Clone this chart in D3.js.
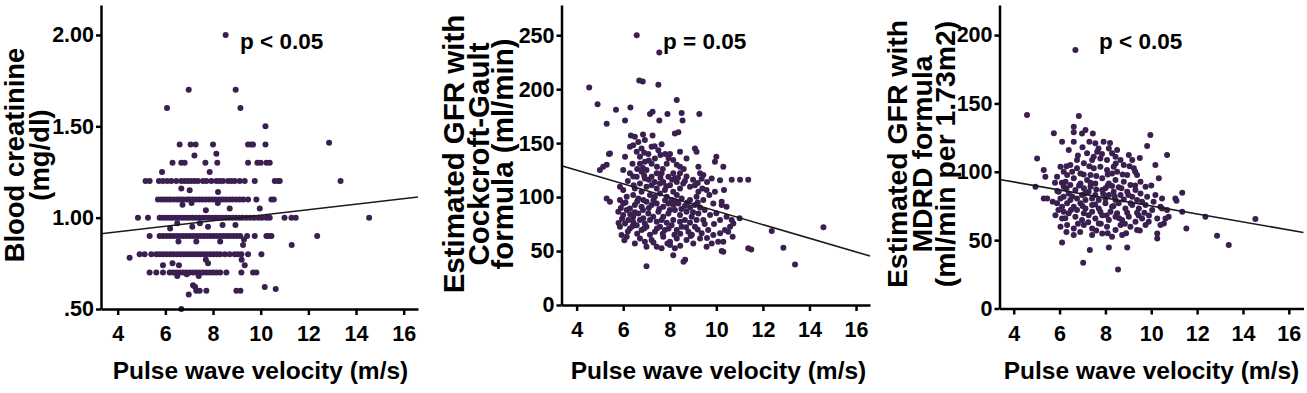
<!DOCTYPE html>
<html>
<head>
<meta charset="utf-8">
<script src="https://cdn.jsdelivr.net/npm/d3@7"></script>
<style>
  body { margin: 0; background: #fff; }
  svg { display: block; font-family: "Liberation Sans", Arial, sans-serif; font-weight: bold; }
  .axis path, .axis line { stroke: #000; stroke-width: 2.5; }
  .axis text { font-size: 21.5px; font-weight: bold; fill: #000; font-family: "Liberation Sans", Arial, sans-serif; }
</style>
</head>
<body>
<script>
// x: pulse wave velocity (m/s), y: blood creatinine (mg/dl)
const creatinine = [
  [8.53, 2.0], [6.98, 1.7], [8.95, 1.7], [6.07, 1.6], [9.15, 1.6], [10.2, 1.5], [12.87, 1.41], [13.35, 1.2], [14.55, 1.0], [12.37, 0.9], [11.3, 0.85],
  [6.6, 1.4], [7.06, 1.4], [7.27, 1.4], [8.0, 1.4], [9.47, 1.4], [9.6, 1.4], [9.68, 1.4], [10.2, 1.4], [7.22, 1.34], [8.14, 1.35],
  [6.3, 1.3], [6.67, 1.3], [6.81, 1.3], [7.68, 1.3], [8.18, 1.3], [9.47, 1.3], [9.86, 1.3], [10.0, 1.3], [10.24, 1.3], [10.38, 1.3],
  [5.86, 1.25], [7.86, 1.25],
  [5.17, 1.2], [5.34, 1.2], [5.73, 1.2], [5.9, 1.2], [6.08, 1.2], [6.25, 1.2], [6.46, 1.2], [6.67, 1.2], [6.81, 1.2], [6.95, 1.2],
  [7.09, 1.2], [7.23, 1.2], [7.37, 1.2], [7.58, 1.2], [7.72, 1.2], [7.93, 1.2], [8.14, 1.2], [8.28, 1.2], [8.42, 1.2], [8.63, 1.2],
  [8.77, 1.2], [8.91, 1.2], [9.12, 1.2], [9.33, 1.2], [9.75, 1.2], [10.59, 1.2], [10.73, 1.2], [10.8, 1.2],
  [6.67, 1.16], [7.02, 1.15], [8.21, 1.14],
  [5.69, 1.1], [5.83, 1.1], [5.97, 1.1], [6.1, 1.1], [6.22, 1.1], [6.36, 1.1], [6.5, 1.1], [6.62, 1.1], [6.76, 1.1], [6.9, 1.1],
  [7.02, 1.1], [7.15, 1.1], [7.3, 1.1], [7.43, 1.1], [7.56, 1.1], [7.7, 1.1], [7.84, 1.1], [7.98, 1.1], [8.12, 1.1], [8.26, 1.1],
  [8.4, 1.1], [8.54, 1.1], [8.68, 1.1], [8.82, 1.1], [8.97, 1.1], [9.12, 1.1], [9.27, 1.1], [9.47, 1.1], [9.82, 1.1], [10.45, 1.1], [10.55, 1.1],
  [6.72, 1.07], [7.7, 1.04], [8.7, 1.05], [9.96, 1.05], [7.1, 1.08], [8.2, 1.08],
  [4.85, 1.0], [5.27, 1.0], [5.76, 1.0], [5.9, 1.0], [6.04, 1.0], [6.18, 1.0], [6.3, 1.0], [6.44, 1.0], [6.58, 1.0], [6.72, 1.0],
  [6.86, 1.0], [7.0, 1.0], [7.14, 1.0], [7.28, 1.0], [7.42, 1.0], [7.56, 1.0], [7.7, 1.0], [7.84, 1.0], [7.98, 1.0], [8.12, 1.0],
  [8.26, 1.0], [8.4, 1.0], [8.54, 1.0], [8.68, 1.0], [8.82, 1.0], [8.96, 1.0], [9.1, 1.0], [9.24, 1.0], [9.4, 1.0], [9.56, 1.0],
  [9.72, 1.0], [9.9, 1.0], [10.05, 1.0], [10.24, 1.0], [10.38, 1.0], [11.0, 1.0], [11.29, 1.0], [11.47, 1.0],
  [6.2, 0.94], [7.13, 0.95], [7.79, 0.95], [8.94, 0.96], [6.5, 0.97], [8.4, 0.96], [7.45, 0.97],
  [5.34, 0.9], [5.76, 0.9], [5.9, 0.9], [6.05, 0.9], [6.2, 0.9], [6.34, 0.9], [6.48, 0.9], [6.62, 0.9], [6.76, 0.9], [6.9, 0.9],
  [7.04, 0.9], [7.18, 0.9], [7.32, 0.9], [7.46, 0.9], [7.6, 0.9], [7.74, 0.9], [7.88, 0.9], [8.02, 0.9], [8.16, 0.9], [8.3, 0.9],
  [8.44, 0.9], [8.58, 0.9], [8.72, 0.9], [8.86, 0.9], [9.0, 0.9], [9.14, 0.9], [9.43, 0.9], [9.75, 0.9], [10.24, 0.9], [10.35, 0.9], [10.45, 0.9],
  [9.26, 0.85], [6.55, 0.87], [7.3, 0.87], [8.3, 0.87], [9.3, 0.88],
  [4.5, 0.78], [4.92, 0.8], [5.13, 0.8], [5.41, 0.8], [5.62, 0.8], [5.76, 0.8], [5.9, 0.8], [6.05, 0.8], [6.2, 0.8], [6.34, 0.8],
  [6.48, 0.8], [6.62, 0.8], [6.76, 0.8], [6.9, 0.8], [7.04, 0.8], [7.18, 0.8], [7.32, 0.8], [7.46, 0.8], [7.6, 0.8], [7.74, 0.8],
  [7.88, 0.8], [8.02, 0.8], [8.16, 0.8], [8.3, 0.8], [8.5, 0.8], [8.7, 0.8], [8.91, 0.8], [9.05, 0.8], [9.19, 0.8], [9.47, 0.8], [10.03, 0.8],
  [5.9, 0.74], [6.57, 0.74], [7.79, 0.75], [9.33, 0.74], [6.3, 0.75], [7.7, 0.77], [9.2, 0.77],
  [5.34, 0.7], [5.62, 0.7], [5.9, 0.7], [6.18, 0.7], [6.32, 0.7], [6.46, 0.7], [6.6, 0.7], [6.74, 0.7], [6.88, 0.7], [7.02, 0.7],
  [7.16, 0.7], [7.3, 0.7], [7.44, 0.7], [7.58, 0.7], [7.72, 0.7], [7.86, 0.7], [8.0, 0.7], [8.14, 0.7], [8.3, 0.7], [8.56, 0.7],
  [9.19, 0.7], [9.68, 0.7], [9.82, 0.7], [6.5, 0.68], [6.9, 0.69], [7.4, 0.68],
  [7.16, 0.63], [7.25, 0.62], [6.98, 0.58], [6.67, 0.5], [10.17, 0.62], [10.63, 0.61], [8.98, 0.6], [9.15, 0.6], [7.3, 0.6], [7.44, 0.6], [7.72, 0.6]
];

// x: pulse wave velocity (m/s), y: eGFR Cockcroft-Gault (ml/min)
const gfrCockcroft = [
  [6.58, 250], [7.55, 234], [6.69, 208], [6.84, 207], [7.51, 204], [4.54, 201.5], [4.9, 186], [5.69, 181], [6.31, 183], [8.3, 190],
  [7.15, 177], [7.26, 179], [7.9, 177], [8.51, 178], [8.55, 171], [9.27, 177], [5.29, 168], [6.08, 171], [7.55, 171], [8.22, 159],
  [8.37, 160], [6.33, 157], [7.26, 157], [5.39, 140], [5.0, 125], [5.14, 128], [5.29, 130], [14.6, 72], [12.38, 68.5], [12.88, 53],
  [13.38, 37.6], [11.37, 52.5], [11.5, 51.5], [11.02, 116], [11.37, 116], [10.66, 116], [7.0, 36], [8.15, 46], [8.59, 40], [8.66, 42], [10.23, 50],
  [6.65, 151], [6.93, 152.8], [7.65, 149], [9.08, 145], [9.15, 142], [6.29, 146.6], [6.43, 148],
  [5.43, 140.4], [6.08, 137.3], [7.08, 140], [7.8, 140], [8.01, 140], [8.44, 142], [10.0, 137.3], [9.94, 132.7],
  [6.0, 125], [6.72, 131], [7.22, 131], [7.87, 131], [8.44, 128], [9.23, 128], [10.3, 128],
  [6.29, 122], [6.43, 119], [7.0, 125], [7.44, 122], [7.65, 122], [8.15, 122], [8.72, 119], [9.44, 120.4], [9.8, 117.3], [10.16, 115.7],
  [5.86, 109.6], [6.0, 106.5], [6.72, 112.7], [7.0, 109.6], [7.22, 111], [7.72, 114], [8.01, 111], [8.3, 114], [8.87, 109.6], [9.08, 111], [9.58, 106.5], [9.94, 105],
  [5.29, 98.8], [5.43, 95.7], [5.86, 97.2], [6.0, 94.1], [6.43, 101.9], [6.65, 98.8], [6.86, 97.2], [7.15, 101.9], [7.36, 100.3], [7.58, 103.4],
  [7.87, 100.3], [8.08, 97.2], [8.3, 101.9], [8.51, 98.8], [8.87, 97.2], [9.15, 100.3], [9.44, 97.2], [9.87, 94.1], [10.23, 92.6], [10.44, 91],
  [5.79, 86.4], [6.0, 83.3], [6.15, 88], [6.43, 81.8], [6.65, 84.9], [6.86, 80.3], [7.08, 84.9], [7.29, 81.8], [7.51, 86.4], [7.72, 81.8],
  [7.94, 84.9], [8.22, 88], [8.44, 83.3], [8.72, 86.4], [8.94, 81.8], [9.23, 84.9], [9.44, 78.7], [9.73, 83.3], [10.16, 78.7], [10.44, 81.8],
  [5.86, 72.5], [6.08, 75.6], [6.29, 71], [6.58, 74], [6.79, 69.4], [7.0, 72.5], [7.36, 67.9], [7.58, 72.5], [7.79, 69.4], [8.08, 74],
  [8.3, 69.4], [8.51, 72.5], [8.8, 67.9], [9.08, 72.5], [9.37, 66.4], [9.65, 69.4], [9.87, 64.8], [10.16, 66.4],
  [5.93, 64.8], [6.15, 63.3], [6.72, 61.7], [6.93, 58.6], [7.22, 60.2], [7.72, 63.3], [8.01, 58.6], [8.3, 61.7], [8.72, 60.2], [9.01, 57.1], [9.3, 61.7],
  [7.44, 54], [7.65, 52.5], [8.01, 55.6], [8.22, 52.5], [9.58, 54], [9.8, 57.1], [10.08, 58.6], [10.3, 49.4],
  [6.15, 100.3], [6.29, 89.5], [6.5, 92.6], [6.79, 91], [7.0, 95.7], [7.22, 92.6], [7.44, 94.1], [7.72, 91], [7.94, 94.1], [8.15, 92.6],
  [8.37, 94.1], [8.65, 91.7], [8.87, 90.4], [9.08, 92.6], [9.3, 90.4],
  [6.22, 78.7], [6.43, 77.2], [6.72, 78.7], [6.93, 75.6], [7.15, 78.7], [7.44, 77.2], [7.65, 78.7], [7.87, 76.2], [8.15, 78.7], [8.44, 77.2],
  [8.65, 78.7], [8.87, 76.2], [9.15, 78.7],
  [6.5, 108], [6.79, 105], [7.44, 108], [7.58, 112.7], [7.79, 106.5], [8.15, 105], [8.44, 108], [8.58, 112.7], [9.23, 105],
  [6.58, 118.8], [6.79, 123.5], [6.93, 117.3], [7.22, 118.8], [7.94, 118.8], [8.22, 117.3], [8.44, 122],
  [6.72, 137.3], [6.93, 132.7], [6.58, 142], [7.36, 135.8], [7.51, 143.5], [8.15, 134.3], [8.72, 135.8], [7.22, 146.6], [6.79, 145],
  [9.3, 122], [9.37, 117],
  [10.33, 106.5], [10.23, 95.7], [10.66, 78.7], [10.73, 75.6], [10.59, 72.5], [10.51, 67.9], [10.37, 69.4], [11.0, 80.3], [10.3, 58.6], [10.7, 63.3],
  [5.9, 90], [6.1, 95], [6.3, 84], [6.5, 86], [6.6, 96], [6.85, 88], [7.1, 90], [7.3, 97], [7.55, 89], [7.8, 97],
  [8.0, 88], [8.25, 96], [8.5, 89], [8.75, 95], [9.0, 86], [9.2, 95], [9.5, 88],
  [5.95, 80], [6.2, 68], [6.4, 73], [6.6, 66], [6.9, 71], [7.15, 65], [7.45, 71], [7.7, 66], [7.95, 71], [8.2, 65],
  [8.45, 66], [8.7, 72], [8.95, 65], [9.2, 70], [9.5, 75],
  [6.2, 115], [6.45, 111], [6.9, 120], [7.1, 116], [7.35, 114], [7.6, 118], [7.85, 110], [8.1, 116], [8.35, 118], [8.65, 115], [9.0, 116], [9.2, 113],
  [6.4, 131], [6.6, 126], [6.85, 127], [7.1, 134], [7.45, 128], [7.7, 126], [7.95, 136], [8.3, 130], [8.6, 126], [6.9, 141], [7.35, 147], [7.6, 139],
  [6.5, 156], [6.85, 158],
  [5.8, 76], [6.05, 60], [6.5, 57], [7.0, 54], [7.3, 58], [7.9, 57], [8.45, 55], [8.9, 64], [9.6, 62], [9.9, 75], [10.0, 85], [9.7, 102], [9.4, 108], [9.6, 114]
];

// x: pulse wave velocity (m/s), y: eGFR MDRD (ml/min per 1.73m2)
const gfrMdrd = [
  [6.69, 189], [4.58, 141.5], [6.84, 140.8], [6.62, 133], [6.98, 128], [7.13, 130.6], [6.62, 122], [6.62, 129], [5.75, 128.1], [6.11, 122], [6.4, 116],
  [5.02, 109.8], [5.31, 101.3], [5.38, 96.4], [4.95, 89], [5.31, 80.5], [5.46, 80.5], [9.96, 126.9], [9.82, 118.8], [10.69, 112.3],
  [10.18, 105], [10.33, 95.2], [7.56, 120.8], [7.92, 122], [8.15, 117], [8.29, 113.5], [7.2, 113.5], [7.42, 108.6], [7.64, 114.7],
  [8.51, 115.9], [8.66, 108.6], [9.02, 112.3], [9.17, 108.6], [8.8, 105], [9.24, 102.5], [9.38, 97.6],
  [6.04, 103.7], [6.18, 100], [5.89, 96.4], [6.47, 105], [6.76, 102.5], [7.06, 106.2], [7.49, 102.5], [7.78, 103.7], [8.07, 101.3], [8.36, 103.7], [8.51, 100],
  [6.26, 92.7], [6.62, 95.2], [6.91, 91.5], [7.2, 94], [7.56, 91.5], [7.86, 95.2], [8.15, 91.5], [8.44, 94], [8.8, 92.7], [9.09, 90.3], [9.53, 92.7], [9.75, 89],
  [5.96, 85.4], [6.18, 81.8], [6.4, 84.2], [6.69, 86.6], [6.98, 83], [7.27, 85.4], [7.56, 83], [7.86, 86.6], [8.15, 83], [8.36, 85.4],
  [8.66, 83], [8.95, 85.4], [9.17, 81.8], [9.53, 84.2], [9.82, 81.8], [10.18, 83], [10.47, 80.5],
  [5.89, 76.9], [6.11, 74.4], [6.33, 76.9], [6.62, 74.4], [6.91, 76.9], [7.13, 73.2], [7.42, 75.7], [7.71, 73.2], [8.0, 76.9], [8.29, 74.4],
  [8.58, 76.9], [8.87, 73.2], [9.17, 75.7], [9.46, 73.2], [9.75, 75.7], [10.04, 72], [10.4, 74.4], [10.69, 72],
  [5.82, 68.3], [6.11, 65.9], [6.4, 69.6], [6.69, 67.1], [6.98, 64.7], [7.27, 68.3], [7.56, 65.9], [7.86, 68.3], [8.15, 64.7], [8.44, 67.1],
  [8.73, 64.7], [9.02, 67.1], [9.31, 63.5], [9.6, 65.9], [9.89, 63.5], [10.26, 65.9], [10.55, 62.2],
  [6.04, 59.8], [6.33, 61], [6.62, 58.6], [7.06, 61], [7.42, 58.6], [7.71, 62.2], [8.07, 59.8], [8.44, 57.4], [8.66, 61], [9.09, 59.8], [9.38, 57.4], [9.75, 61],
  [6.62, 53.7], [7.42, 53.7], [7.86, 54.9], [8.29, 52.5], [8.73, 53.7], [10.26, 54.9], [10.26, 51.2],
  [6.11, 48.3], [7.32, 42.7], [8.15, 44.7], [8.95, 44.7], [7.03, 33.4], [8.55, 28.6],
  [6.18, 89], [6.47, 90.3], [7.06, 87.9], [7.35, 89], [8.0, 87.9], [8.29, 89.6], [8.58, 88.6], [9.31, 86.6],
  [6.04, 80.5], [6.47, 79.3], [6.76, 80.5], [7.13, 79.3], [7.42, 80.5], [7.71, 79.3], [8.0, 80.5], [8.44, 79.3], [8.8, 79.8], [9.38, 79.3],
  [6.18, 70.8], [6.76, 72], [7.06, 69.6], [7.42, 70.8], [7.78, 70.8], [8.22, 70.8], [8.51, 69.6], [8.95, 70], [9.38, 70],
  [6.33, 97.6], [6.91, 98.8], [7.35, 97.6], [8.29, 98.8], [8.95, 97.6], [6.76, 108.6], [7.78, 109.8], [8.07, 108.6], [7.49, 111], [8.44, 111],
  [11.35, 84.7], [11.05, 80.5], [11.1, 78.8], [10.47, 73.2], [10.76, 67.1], [10.62, 65.9], [11.35, 70.8], [10.4, 61], [12.36, 67.1],
  [14.54, 65.4], [11.53, 58.6], [12.87, 53.2], [13.38, 46.4],
  [5.9, 86], [6.1, 92], [6.3, 88], [6.55, 82], [6.85, 90], [7.1, 84], [7.35, 92], [7.6, 87], [7.9, 84], [8.1, 90],
  [8.4, 82], [8.7, 88], [9.0, 83], [9.3, 90], [9.6, 78],
  [5.95, 72], [6.25, 66], [6.5, 72], [6.8, 62], [7.0, 75], [7.25, 63], [7.55, 76], [7.8, 62], [8.05, 68], [8.35, 75],
  [8.6, 66], [8.85, 62], [9.1, 77], [9.45, 68], [9.7, 70],
  [6.3, 104], [6.55, 100], [6.8, 112], [7.05, 98], [7.3, 104], [7.6, 97], [7.85, 113], [8.1, 98], [8.45, 106], [8.75, 98],
  [9.05, 104], [9.3, 100], [9.5, 110],
  [7.0, 118], [7.3, 122], [7.7, 117], [8.2, 121], [7.45, 128], [6.3, 56], [6.9, 56], [7.6, 57], [8.1, 55], [8.9, 55],
  [9.5, 57], [9.9, 68], [10.1, 78], [10.0, 90], [5.7, 78], [5.8, 92]
];

// 回歸線兩端點
const creatinineFit = [[3.3, 0.912], [16.6, 1.113]],
  cockcroftFit = [[3.35, 129], [16.6, 45.4]],
  mdrdFit = [[3.38, 94.4], [16.64, 55.6]];

// 座標刻度
const pwvTicks = [4, 6, 8, 10, 12, 14, 16],
  creatinineTicks = [0.5, 1.0, 1.5, 2.0],
  cockcroftTicks = [0, 50, 100, 150, 200, 250],
  mdrdTicks = [0, 50, 100, 150, 200];

// 文字
const xTitle = "Pulse wave velocity (m/s)",
  creatinineTitle = ["Blood creatinine", "(mg/dl)"],
  cockcroftTitle = ["Estimated GFR with", "Cockcroft-Gault", "formula (ml/min)"],
  mdrdTitle = ["Estimated GFR with", "MDRD formula", "(ml/min per 1.73m2)"],
  pLabels = ["p < 0.05", "p = 0.05", "p < 0.05"];

// 版面設定
const width = 1307, height = 393,
  dotColor = "#3b1f50";

const panels = [
  {
    data: creatinine, fit: creatinineFit, yTicks: creatinineTicks, title: creatinineTitle, pLabel: pLabels[0],
    yFormat: d => d3.format(".2f")(d).replace(/^0/, ""),
    xDomain: [3.3, 16.6], yDomain: [0.5, 2.164], left: 101, right: 418, top: 5, bottom: 309,
    titleX: [24, 49], titleSize: 27.4, titleY: 155, pX: 240, xTitleX: 260.5
  },
  {
    data: gfrCockcroft, fit: cockcroftFit, yTicks: cockcroftTicks, title: cockcroftTitle, pLabel: pLabels[1],
    yFormat: d3.format("d"),
    xDomain: [3.35, 16.6], yDomain: [0, 278], left: 561.5, right: 870, top: 5, bottom: 305,
    titleX: [464, 489, 513], titleSize: 29.5, titleY: 154, pX: 663, xTitleX: 718.5
  },
  {
    data: gfrMdrd, fit: mdrdFit, yTicks: mdrdTicks, title: mdrdTitle, pLabel: pLabels[2],
    yFormat: d3.format("d"),
    xDomain: [3.38, 16.64], yDomain: [0, 222], left: 999.5, right: 1303.5, top: 5, bottom: 308.5,
    titleX: [907, 932, 955], titleSize: 28.4, titleY: 154, pX: 1099, xTitleX: 1151.5
  }
];

// 設定 SVG
let svg = d3.select("body")
  .append("svg")
  .attr("width", width)
  .attr("height", height);

svg.append("rect")
  .attr("width", width)
  .attr("height", height)
  .attr("fill", "#fff");

let drawPanel = (p) => {
  let x = d3.scaleLinear().domain(p.xDomain).range([p.left, p.right]),
    y = d3.scaleLinear().domain(p.yDomain).range([p.bottom, p.top]);

  // 散佈點
  svg.append("g")
    .selectAll("circle")
    .data(p.data)
    .join("circle")
    .attr("cx", d => x(d[0]))
    .attr("cy", d => y(d[1]))
    .attr("r", 3)
    .attr("fill", dotColor);

  // 回歸線
  let fitLine = d3.line()
    .x(d => x(d[0]))
    .y(d => y(d[1]));
  svg.append("path")
    .attr("d", fitLine(p.fit))
    .attr("fill", "none")
    .attr("stroke", "#1a1a1a")
    .attr("stroke-width", 1.6);

  // X 軸
  let xAxis = svg.append("g")
    .attr("class", "axis")
    .attr("transform", "translate(0, " + p.bottom + ")")
    .call(d3.axisBottom(x)
      .tickValues(pwvTicks)
      .tickFormat(d3.format("d"))
      .tickSize(6)
      .tickSizeOuter(0)
      .tickPadding(11));

  // Y 軸
  let yAxis = svg.append("g")
    .attr("class", "axis")
    .attr("transform", "translate(" + p.left + ", 0)")
    .call(d3.axisLeft(y)
      .tickValues(p.yTicks)
      .tickFormat(p.yFormat)
      .tickSize(5)
      .tickSizeOuter(0)
      .tickPadding(2));

  [xAxis, yAxis].forEach(a => a.attr("font-family", null).attr("font-size", null));

  // Y 軸標題
  p.title.forEach((line, i) => {
    svg.append("text")
      .attr("transform", "translate(" + p.titleX[i] + ", " + p.titleY + ") rotate(-90)")
      .attr("text-anchor", "middle")
      .attr("font-size", p.titleSize)
      .text(line);
  });

  // X 軸標題
  svg.append("text")
    .attr("x", p.xTitleX)
    .attr("y", 379)
    .attr("text-anchor", "middle")
    .attr("font-size", 24.5)
    .text(xTitle);

  // p 值
  svg.append("text")
    .attr("x", p.pX)
    .attr("y", 49)
    .attr("font-size", 22.5)
    .text(p.pLabel);
};

panels.forEach(drawPanel);
</script>
</body>
</html>
